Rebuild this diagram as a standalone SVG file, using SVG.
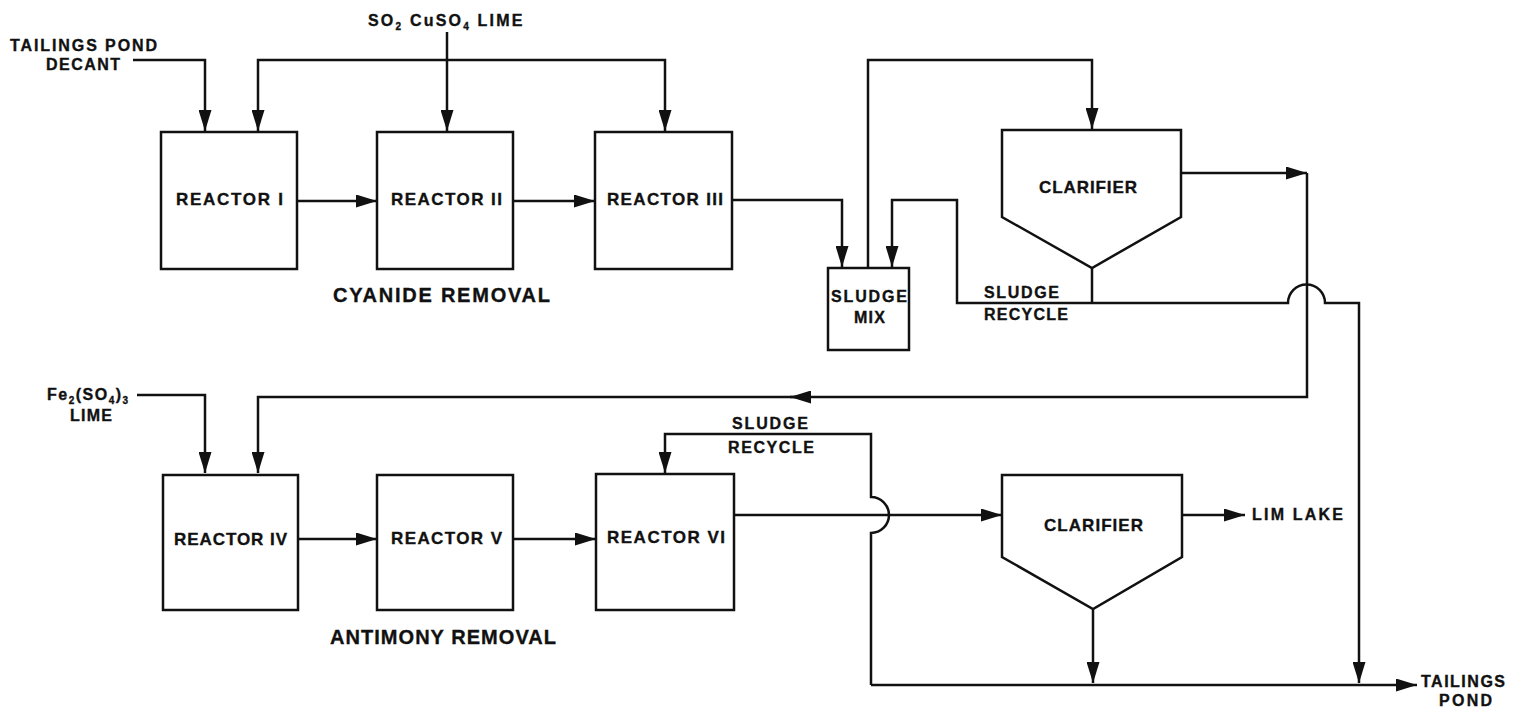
<svg xmlns="http://www.w3.org/2000/svg" width="1522" height="711" viewBox="0 0 1522 711">
<style>
  .box{fill:#fff;stroke:#111;stroke-width:2.5}
  .ln{fill:none;stroke:#111;stroke-width:2.5}
  .arr{marker-end:url(#ah)}
  text{font-family:"Liberation Sans",Arial,sans-serif;font-weight:bold;fill:#111;stroke:#111;stroke-width:0.35}
  .lbl{font-size:17px}
  .big{font-size:20px}
  .sm{font-size:16px}
</style>
<defs>
  <marker id="ah" markerUnits="userSpaceOnUse" markerWidth="21" markerHeight="13" refX="21" refY="6.5" orient="auto">
    <path d="M0,0 L21,6.5 L0,13 z" fill="#111"/>
  </marker>
</defs>
<rect width="1522" height="711" fill="#fff"/>

<g id="connectors">
  <path class="ln arr" d="M133,60 H205 V131"/>
  <path class="ln arr" d="M447,32 V131"/>
  <path class="ln arr" d="M447,60 H258 V131"/>
  <path class="ln arr" d="M447,60 H665 V131"/>
  <path class="ln arr" d="M297,201 H377"/>
  <path class="ln arr" d="M513,201 H595"/>
  <path class="ln arr" d="M732,200 H842 V267"/>
  <path class="ln arr" d="M868,268 V60 H1092 V129"/>
  <path class="ln arr" d="M1181,173 H1307"/>
  <path class="ln arr" d="M1307,173 V397 H790"/>
  <path class="ln arr" d="M800,397 H258 V473"/>
  <path class="ln" d="M1092,268 V303"/>
  <path class="ln arr" d="M1092,303 H957 V200 H892 V267"/>
  <path class="ln arr" d="M1092,303 H1288 A18.5,18.5 0 0 1 1325,303 H1359 V683"/>
  <path class="ln arr" d="M137,395 H205 V473"/>
  <path class="ln arr" d="M298,539 H377"/>
  <path class="ln arr" d="M513,539 H596"/>
  <path class="ln arr" d="M734,515 H1002"/>
  <path class="ln arr" d="M1093,609 V683"/>
  <path class="ln arr" d="M871,685 H1417"/>
  <path class="ln arr" d="M871,685 V533 A18,18 0 0 0 871,497 V434 H665 V473"/>
  <path class="ln arr" d="M1182,515 H1245"/>
</g>

<g id="reactor1"><rect class="box" x="161" y="132" width="136" height="137"/><text class="lbl" x="176" y="205" textLength="107">REACTOR I</text></g>
<g id="reactor2"><rect class="box" x="377" y="132" width="136" height="137"/><text class="lbl" x="391" y="205" textLength="111">REACTOR II</text></g>
<g id="reactor3"><rect class="box" x="595" y="132" width="137" height="137"/><text class="lbl" x="607" y="205" textLength="116">REACTOR III</text></g>
<g id="reactor4"><rect class="box" x="163" y="475" width="135" height="135"/><text class="lbl" x="174" y="545" textLength="113">REACTOR IV</text></g>
<g id="reactor5"><rect class="box" x="377" y="475" width="136" height="135"/><text class="lbl" x="391" y="544" textLength="111">REACTOR V</text></g>
<g id="reactor6"><rect class="box" x="596" y="474" width="138" height="136"/><text class="lbl" x="607" y="543" textLength="118">REACTOR VI</text></g>
<g id="sludge-mix"><rect class="box" x="828" y="268" width="81" height="82"/><text class="sm" x="831" y="302" textLength="76">SLUDGE</text><text class="sm" x="854" y="323" textLength="31">MIX</text></g>
<g id="clarifier1"><polygon class="box" points="1002,130 1181,130 1181,217 1092,268 1002,217"/><text class="lbl" x="1039" y="193" textLength="98">CLARIFIER</text></g>
<g id="clarifier2"><polygon class="box" points="1002,475 1182,475 1182,557 1093,609 1002,557"/><text class="lbl" x="1044" y="531" textLength="99">CLARIFIER</text></g>

<g id="labels">
  <text class="sm" x="10" y="51" textLength="147">TAILINGS POND</text>
  <text class="sm" x="46" y="70" textLength="74">DECANT</text>
  <text class="sm" x="368" y="26" letter-spacing="2.2">SO<tspan font-size="10" dy="4">2</tspan><tspan dy="-4"> CuSO</tspan><tspan font-size="10" dy="4">4</tspan><tspan dy="-4"> LIME</tspan></text>
  <text class="big" x="333" y="302" textLength="217">CYANIDE REMOVAL</text>
  <text class="sm" x="984" y="298" textLength="75">SLUDGE</text>
  <text class="sm" x="984" y="320" textLength="84">RECYCLE</text>
  <text class="sm" x="47" y="400" letter-spacing="1.5">Fe<tspan font-size="10" dy="4">2</tspan><tspan dy="-4">(SO</tspan><tspan font-size="10" dy="4">4</tspan><tspan dy="-4">)</tspan><tspan font-size="10" dy="4">3</tspan></text>
  <text class="sm" x="70" y="421" textLength="42">LIME</text>
  <text class="sm" x="732" y="429" textLength="76">SLUDGE</text>
  <text class="sm" x="728" y="453" textLength="86">RECYCLE</text>
  <text class="big" x="330" y="644" textLength="226">ANTIMONY REMOVAL</text>
  <text class="sm" x="1252" y="520" textLength="91">LIM LAKE</text>
  <text class="sm" x="1421" y="687" textLength="84">TAILINGS</text>
  <text class="sm" x="1439" y="706" textLength="53">POND</text>
</g>
</svg>
